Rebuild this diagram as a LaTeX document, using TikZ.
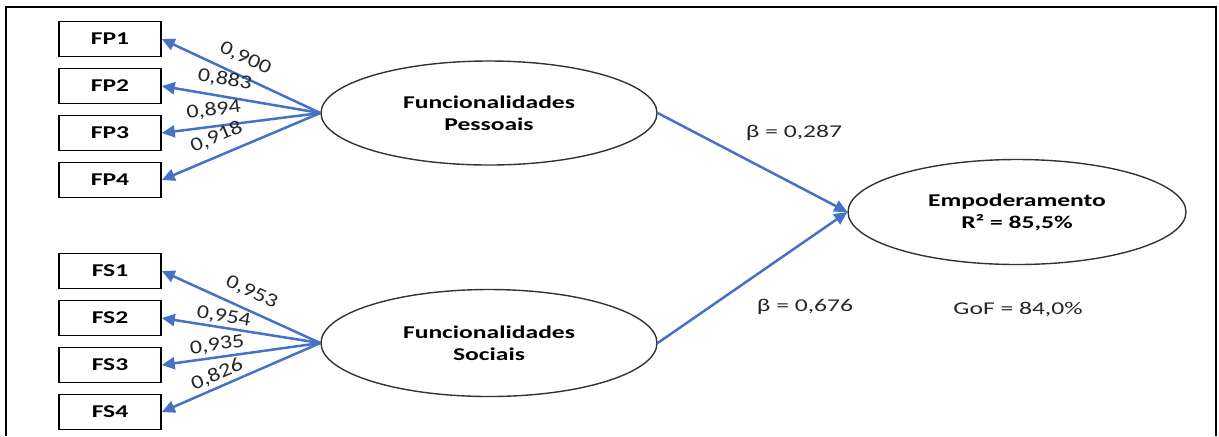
\documentclass[tikz,border=0pt]{standalone}
\usepackage{fontspec}
\setmainfont{Carlito}
\usepackage{graphicx}
\usetikzlibrary{arrows.meta,shapes.geometric}

\definecolor{pathblue}{RGB}{68,114,196}
\newcommand{\wide}[1]{\scalebox{1.42}[1]{#1}}
\newcommand{\halfwide}[1]{\scalebox{1.22}[1]{#1}}

\begin{document}
\begin{tikzpicture}[x=0.5pt, y=-0.5pt, >={Triangle[length=6.5pt,width=6pt]},
  ind/.style={rectangle,draw=black,line width=0.8pt,minimum width=51pt,minimum height=17.5pt,inner sep=0pt,font=\fontsize{9}{11}\selectfont\bfseries},
  lat/.style={ellipse,draw=black!80,line width=0.7pt,minimum width=168pt,minimum height=52pt,inner sep=0pt,align=center,font=\fontsize{9}{11}\selectfont\bfseries},
  lnk/.style={pathblue,line width=1.25pt},
  ld/.style={sloped,font=\fontsize{9.8}{11}\selectfont,inner sep=0.5pt,text=black!85},
  txt/.style={font=\fontsize{9}{11}\selectfont,text=black!85}]
  \useasboundingbox (0,0) rectangle (1219,436);
  \draw[line width=1.3pt] (6,436) -- (6,7) -- (1216,7) -- (1216,436);
  % indicators
  \foreach \i [evaluate=\i as \y using {39+(\i-1)*47}] in {1,...,4} {
    \node[ind] (fp\i) at (110,\y) {\wide{FP\i}};
    \node[ind] (fs\i) at (110,\y+232) {\wide{FS\i}};
  }
  % latent variables
  \node[lat] (fp) at (489,113) {\wide{Funcionalidades}\\\wide{Pessoais}};
  \node[lat,minimum height=53.5pt] (fs) at (489,343) {\wide{Funcionalidades}\\\wide{Sociais}};
  \node[lat,minimum width=169pt,minimum height=52.5pt] (emp) at (1017,212) {\wide{Empoderamento}\\\wide{R² = 85,5\%}};
  % loadings
  \foreach \i/\v/\p/\d in {1/{0,900}/0.48/4pt, 2/{0,883}/0.38/3.5pt, 3/{0,894}/0.34/3pt, 4/{0,918}/0.39/4pt} {
    \draw[lnk,<-] (fp\i.east) -- node[ld,above=\d,pos=\p] (lfp\i) {\halfwide{\v}} (fp.west);
  }
  \foreach \i/\v/\p/\d in {1/{0,953}/0.52/4pt, 2/{0,954}/0.38/0.5pt, 3/{0,935}/0.36/1pt, 4/{0,826}/0.38/1pt} {
    \draw[lnk,<-] (fs\i.east) -- node[ld,above=\d,pos=\p] (lfs\i) {\halfwide{\v}} (fs.west);
  }
  % structural paths
  \draw[lnk,->] (fp.east) -- (emp.west);
  \draw[lnk,->] (fs.east) -- (emp.west);
  \node[txt] (b1) at (794,133) {\wide{β = 0,287}};
  \node[txt] (b2) at (805,307) {\wide{β = 0,676}};
  \node[txt] (gof) at (1018,309) {\wide{GoF = 84,0\%}};
\end{tikzpicture}
\end{document}
